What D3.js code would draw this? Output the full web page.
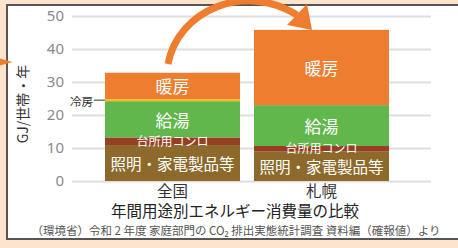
<!DOCTYPE html>
<html>
<head>
<meta charset="utf-8">
<script src="https://cdn.jsdelivr.net/npm/d3@7"></script>
<style>
  body { margin: 0; background: #fde4cf; }
  svg { display: block; font-family: "Noto Sans CJK JP", "Noto Sans", sans-serif; }
</style>
</head>
<body>
<svg id="chart" width="458" height="248"></svg>
<script>
// data (GJ / household / year)
const categories = ['全国', '札幌'];
const seriesKeys = ['照明・家電製品等', '台所用コンロ', '給湯', '冷房', '暖房'];
const lighting = [10.9, 8.9];
const kitchen = [2.3, 1.7];
const hotWater = [11.0, 12.4];
const cooling = [0.6, 0.0];
const heating = [8.0, 22.8];
const yTicks = [0, 10, 20, 30, 40, 50];

const colors = {
  '照明・家電製品等': '#8d692b',
  '台所用コンロ': '#963f22',
  '給湯': '#61b74c',
  '冷房': '#fbbf14',
  '暖房': '#ee7d30'
};
const orange = '#ee7d30';

const rows = categories.map((c, i) => ({
  cat: c,
  '照明・家電製品等': lighting[i],
  '台所用コンロ': kitchen[i],
  '給湯': hotWater[i],
  '冷房': cooling[i],
  '暖房': heating[i]
}));

const svg = d3.select('#chart');

// white panel with dark border (right side runs off the page)
svg.append('rect')
  .attr('x', 7).attr('y', 5)
  .attr('width', 470).attr('height', 234)
  .attr('fill', '#fff')
  .attr('stroke', '#5a5555')
  .attr('stroke-width', 2);

const y = d3.scaleLinear().domain([0, 50]).range([181, 16]);
const x = d3.scaleBand().domain(categories).range([105, 389]).paddingInner(0.094);

const gridLeft = 72, gridRight = 431;

// y axis with gridlines
const yAxis = svg.append('g')
  .attr('transform', `translate(${gridLeft},0)`)
  .call(d3.axisLeft(y).tickValues(yTicks).tickSize(-(gridRight - gridLeft)).tickPadding(8));
yAxis.select('.domain').remove();
yAxis.selectAll('.tick line').attr('stroke', '#dedede').attr('stroke-width', 2);
yAxis.selectAll('.tick text')
  .attr('fill', '#8a8a8a')
  .style('font-size', '15px')
  .style('font-family', '"Noto Sans", sans-serif');

// stacked bars
const stacked = d3.stack().keys(seriesKeys)(rows);

const layers = svg.append('g').selectAll('g')
  .data(stacked)
  .join('g')
  .attr('fill', d => colors[d.key]);

layers.selectAll('rect')
  .data(d => d)
  .join('rect')
  .attr('x', d => x(d.data.cat))
  .attr('y', d => y(d[1]))
  .attr('width', x.bandwidth())
  .attr('height', d => y(d[0]) - y(d[1]));

// labels inside the bars
const labelSize = {
  '照明・家電製品等': 15.5,
  '台所用コンロ': 12,
  '給湯': 17,
  '暖房': 17
};
stacked.forEach(layer => {
  if (!labelSize[layer.key]) return;
  svg.append('g').selectAll('text')
    .data(layer)
    .join('text')
    .attr('x', d => x(d.data.cat) + x.bandwidth() / 2)
    .attr('y', d => (y(d[0]) + y(d[1])) / 2 - (layer.key === '台所用コンロ' ? 1 : 0))
    .attr('text-anchor', 'middle')
    .attr('dominant-baseline', 'central')
    .attr('fill', '#fff')
    .style('font-size', labelSize[layer.key] + 'px')
    .text(layer.key);
});

// 冷房 call-out on the left of the first bar
const coolLayer = stacked.find(s => s.key === '冷房')[0];
const coolY = (y(coolLayer[0]) + y(coolLayer[1])) / 2;
svg.append('text')
  .attr('x', 93).attr('y', coolY + 1)
  .attr('text-anchor', 'end')
  .attr('dominant-baseline', 'central')
  .attr('fill', '#333')
  .style('font-size', '11.5px')
  .text('冷房');
svg.append('line')
  .attr('x1', 94).attr('x2', x(categories[0]))
  .attr('y1', coolY).attr('y2', coolY)
  .attr('stroke', '#333').attr('stroke-width', 1);

// category labels
svg.append('g').selectAll('text')
  .data(categories)
  .join('text')
  .attr('x', d => x(d) + x.bandwidth() / 2)
  .attr('y', 197)
  .attr('text-anchor', 'middle')
  .attr('fill', '#333')
  .style('font-size', '15.5px')
  .text(d => d);

// y axis title
svg.append('text')
  .attr('transform', 'translate(28,104) rotate(-90)')
  .attr('text-anchor', 'middle')
  .attr('fill', '#333')
  .style('font-size', '14px')
  .text('GJ/世帯・年');

// chart title and source
svg.append('text')
  .attr('x', 235).attr('y', 217)
  .attr('text-anchor', 'middle')
  .attr('fill', '#222')
  .style('font-size', '15.5px')
  .text('年間用途別エネルギー消費量の比較');

svg.append('text')
  .attr('x', 236).attr('y', 235)
  .attr('text-anchor', 'middle')
  .attr('fill', '#555')
  .style('font-size', '11.5px')
  .text('（環境省）令和 2 年度 家庭部門の CO₂ 排出実態統計調査 資料編（確報値）より');

// big curved arrow from 全国 to 札幌
svg.append('path')
  .attr('d', 'M168,64 C178,10 245,-18 297,15')
  .attr('fill', 'none')
  .attr('stroke', orange)
  .attr('stroke-width', 7);
svg.append('path')
  .attr('d', 'M287,25 L307,4 L312,30 Z')
  .attr('fill', orange);

// small arrow head on the left edge
svg.append('path')
  .attr('d', 'M0,58.5 L12.5,62 L0,65.5 Z')
  .attr('fill', orange);
</script>
</body>
</html>
